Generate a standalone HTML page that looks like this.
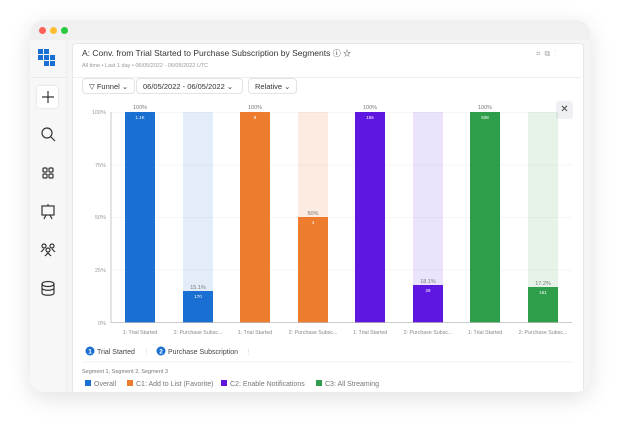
<!DOCTYPE html><html><head><style>
body{margin:0;width:621px;height:433px;background:#fff;font-family:"Liberation Sans",sans-serif;position:relative;overflow:hidden}
.a{position:absolute}
.win{left:30px;top:20px;width:560px;height:372px;border-radius:14px;background:#f5f5f5;box-shadow:0 6px 24px rgba(0,0,0,.12);overflow:hidden}
.t{font-size:6px;color:#888;text-align:center}
.btn{border:1px solid #e3e3e3;border-radius:4px;height:16px;top:78px;font-size:7.5px;color:#333;line-height:16px;padding:0 6px;box-sizing:border-box;background:#fff}
</style></head><body>
<div class="a win">
 <div class="a" style="left:0;top:0;width:560px;height:20px;background:#f0f0f0"></div>
 <div class="a" style="left:9px;top:7px;width:7px;height:7px;border-radius:50%;background:#fe5f57"></div>
 <div class="a" style="left:20px;top:7px;width:7px;height:7px;border-radius:50%;background:#febc2e"></div>
 <div class="a" style="left:31px;top:7px;width:7px;height:7px;border-radius:50%;background:#28c840"></div>
 <div class="a" style="left:0;top:20px;width:36px;height:352px;background:#f7f7f7;border-right:1px solid #eee"></div>
 <div class="a" style="left:42px;top:23px;width:510px;height:349px;background:#fff;border:1px solid #e8e8e8;border-radius:4px"></div>
</div>
<!-- sidebar icons -->
<svg class="a" style="left:36px;top:48px" width="24" height="24"><g fill="#1a6fd3"><rect x="2" y="1" width="5" height="5"/><rect x="8" y="1" width="5" height="5"/><rect x="2" y="7" width="5" height="5"/><rect x="8" y="7" width="5" height="5"/><rect x="14" y="7" width="5" height="5"/><rect x="8" y="13" width="5" height="5"/><rect x="14" y="13" width="5" height="5"/></g></svg>
<div class="a" style="left:31px;top:77px;width:35px;height:1px;background:#e8e8e8"></div>
<div class="a" style="left:37px;top:86px;width:21px;height:22px;background:#fff;border-radius:3px;box-shadow:0 0 2px rgba(0,0,0,.15)"></div>
<svg class="a" style="left:36px;top:86px" width="24" height="210" fill="none" stroke="#333" stroke-width="1.2">
<path d="M12 5v12M6 11h12"/>
<circle cx="11" cy="47" r="5"/><path d="M15 51l4 4"/>
<rect x="7" y="82" width="4" height="4" rx="1"/><rect x="13" y="82" width="4" height="4" rx="1"/><rect x="7" y="88" width="4" height="4" rx="1"/><rect x="13" y="88" width="4" height="4" rx="1"/>
<rect x="6" y="120" width="12" height="9"/><path d="M8 133l2-4M16 133l-2-4M12 118v2"/>
<circle cx="8" cy="160" r="2"/><circle cx="16" cy="160" r="2"/><circle cx="12" cy="164" r="2"/><path d="M5 166l3-3M19 166l-3-3M9 170l3-3 3 3"/>
<ellipse cx="12" cy="198" rx="6" ry="2.5"/><path d="M6 198v9c0 3 12 3 12 0v-9M6 202c0 3 12 3 12 0"/>
</svg>
<!-- header -->
<div class="a" style="left:82px;top:48px;font-size:8.5px;color:#333">A: Conv. from Trial Started to Purchase Subscription by Segments <span style="font-size:8px">ⓘ ☆</span></div>
<div class="a" style="left:82px;top:63px;font-size:5.5px;color:#999">All time • Last 1 day • 06/05/2022 - 06/05/2022 UTC</div>
<div class="a" style="left:536px;top:49px;font-size:8px;color:#aaa;letter-spacing:4px">⌗⧉⋮</div>
<div class="a" style="left:73px;top:77px;width:508px;height:1px;background:#eee"></div>
<div class="a btn" style="left:82px">▽ Funnel ⌄</div>
<div class="a btn" style="left:136px;width:107px">06/05/2022 - 06/05/2022 ⌄</div>
<div class="a btn" style="left:248px">Relative ⌄</div>
<div class="a" style="left:556px;top:101px;width:17px;height:18px;background:#eef0f3;border-radius:3px;font-size:10px;line-height:18px;text-align:center;color:#444">✕</div>
<!-- chart -->
<svg class="a" style="left:0;top:0" width="621" height="433" font-family="Liberation Sans" font-size="5.5">
<g stroke="#eee" stroke-width="0.6"><line x1="111" y1="112.5" x2="572" y2="112.5"/><line x1="111" y1="165" x2="572" y2="165"/><line x1="111" y1="217.5" x2="572" y2="217.5"/><line x1="111" y1="270" x2="572" y2="270"/></g>
<g fill="#999" text-anchor="end"><text x="106" y="114">100%</text><text x="106" y="167">75%</text><text x="106" y="219">50%</text><text x="106" y="272">25%</text><text x="106" y="325">0%</text></g>
<rect x="183" y="112" width="30" height="211" fill="#1a6fd3" opacity=".12"/>
<rect x="298" y="112" width="30" height="211" fill="#ee7c2f" opacity=".15"/>
<rect x="413" y="112" width="30" height="211" fill="#5e17e0" opacity=".12"/>
<rect x="528" y="112" width="30" height="211" fill="#2f9e4b" opacity=".12"/>
<rect x="125" y="112" width="30" height="211" fill="#1a6fd3"/>
<rect x="183" y="291" width="30" height="32" fill="#1a6fd3"/>
<rect x="240" y="112" width="30" height="211" fill="#ee7c2f"/>
<rect x="298" y="217" width="30" height="106" fill="#ee7c2f"/>
<rect x="355" y="112" width="30" height="211" fill="#5e17e0"/>
<rect x="413" y="285" width="30" height="38" fill="#5e17e0"/>
<rect x="470" y="112" width="30" height="211" fill="#2f9e4b"/>
<rect x="528" y="287" width="30" height="36" fill="#2f9e4b"/>
<line x1="111" y1="112" x2="111" y2="323" stroke="#bbb" stroke-width=".8"/>
<line x1="111" y1="322.5" x2="572" y2="322.5" stroke="#bbb" stroke-width=".8"/>
<g fill="#777" text-anchor="middle"><text x="140" y="109">100%</text><text x="198" y="289">15.1%</text><text x="255" y="109">100%</text><text x="313" y="215">50%</text><text x="370" y="109">100%</text><text x="428" y="283">18.1%</text><text x="485" y="109">100%</text><text x="543" y="285">17.2%</text></g>
<g fill="#fff" text-anchor="middle" font-size="4.5"><text x="140" y="119">1.1K</text><text x="198" y="298">170</text><text x="255" y="119">8</text><text x="313" y="224">4</text><text x="370" y="119">155</text><text x="428" y="292">28</text><text x="485" y="119">938</text><text x="543" y="294">161</text></g>
<g fill="#888" text-anchor="middle" font-size="5.3"><text x="140" y="334">1: Trial Started</text><text x="198" y="334">2: Purchase Subsc...</text><text x="255" y="334">1: Trial Started</text><text x="313" y="334">2: Purchase Subsc...</text><text x="370" y="334">1: Trial Started</text><text x="428" y="334">2: Purchase Subsc...</text><text x="485" y="334">1: Trial Started</text><text x="543" y="334">2: Purchase Subsc...</text></g>
<circle cx="90" cy="351" r="4.5" fill="#1a6fd3"/><text x="90" y="353.5" fill="#fff" text-anchor="middle" font-size="6.5" font-weight="bold">1</text>
<text x="97" y="354" fill="#444" font-size="7">Trial Started</text><text x="143" y="354" fill="#ccc" font-size="7">⋮</text>
<circle cx="161" cy="351" r="4.5" fill="#1a6fd3"/><text x="161" y="353.5" fill="#fff" text-anchor="middle" font-size="6.5" font-weight="bold">2</text>
<text x="168" y="354" fill="#444" font-size="7">Purchase Subscription</text><text x="245" y="354" fill="#ccc" font-size="7">⋮</text>
<line x1="82" y1="362" x2="573" y2="362" stroke="#eee" stroke-width=".8"/>
<text x="82" y="373" fill="#777" font-size="5.5">Segment 1, Segment 2, Segment 3</text>
<rect x="85" y="380" width="6" height="6" fill="#1a6fd3"/><text x="94" y="386" fill="#777" font-size="7">Overall</text>
<rect x="127" y="380" width="6" height="6" fill="#ee7c2f"/><text x="136" y="386" fill="#777" font-size="7">C1: Add to List (Favorite)</text>
<rect x="221" y="380" width="6" height="6" fill="#5e17e0"/><text x="230" y="386" fill="#777" font-size="7">C2: Enable Notifications</text>
<rect x="316" y="380" width="6" height="6" fill="#2f9e4b"/><text x="325" y="386" fill="#777" font-size="7">C3: All Streaming</text>
</svg>
</body></html>
